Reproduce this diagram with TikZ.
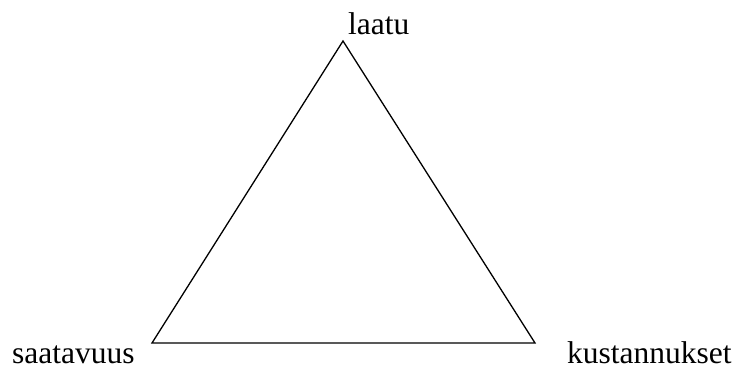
\documentclass[tikz,border=0pt]{standalone}
\usepackage{fontspec}
\setmainfont{Liberation Serif}
\begin{document}
\begin{tikzpicture}[x=1pt,y=1pt,
  lbl/.style={inner sep=0pt,anchor=base west,font=\fontsize{31.5}{36}\selectfont},
  edge/.style={line width=1.3pt,line join=miter}]
\useasboundingbox (0,0) rectangle (735,367);
\coordinate (top) at (343,326);
\coordinate (left) at (152,24);
\coordinate (right) at (535,24);
\draw[edge] (top) -- (left) -- (right) -- cycle;
\node[lbl] (laatu) at (348,332) {laatu};
\node[lbl] (saatavuus) at (12,3.5) {saatavuus};
\node[lbl] (kustannukset) at (567,3.5) {kustannukset};
\end{tikzpicture}
\end{document}
